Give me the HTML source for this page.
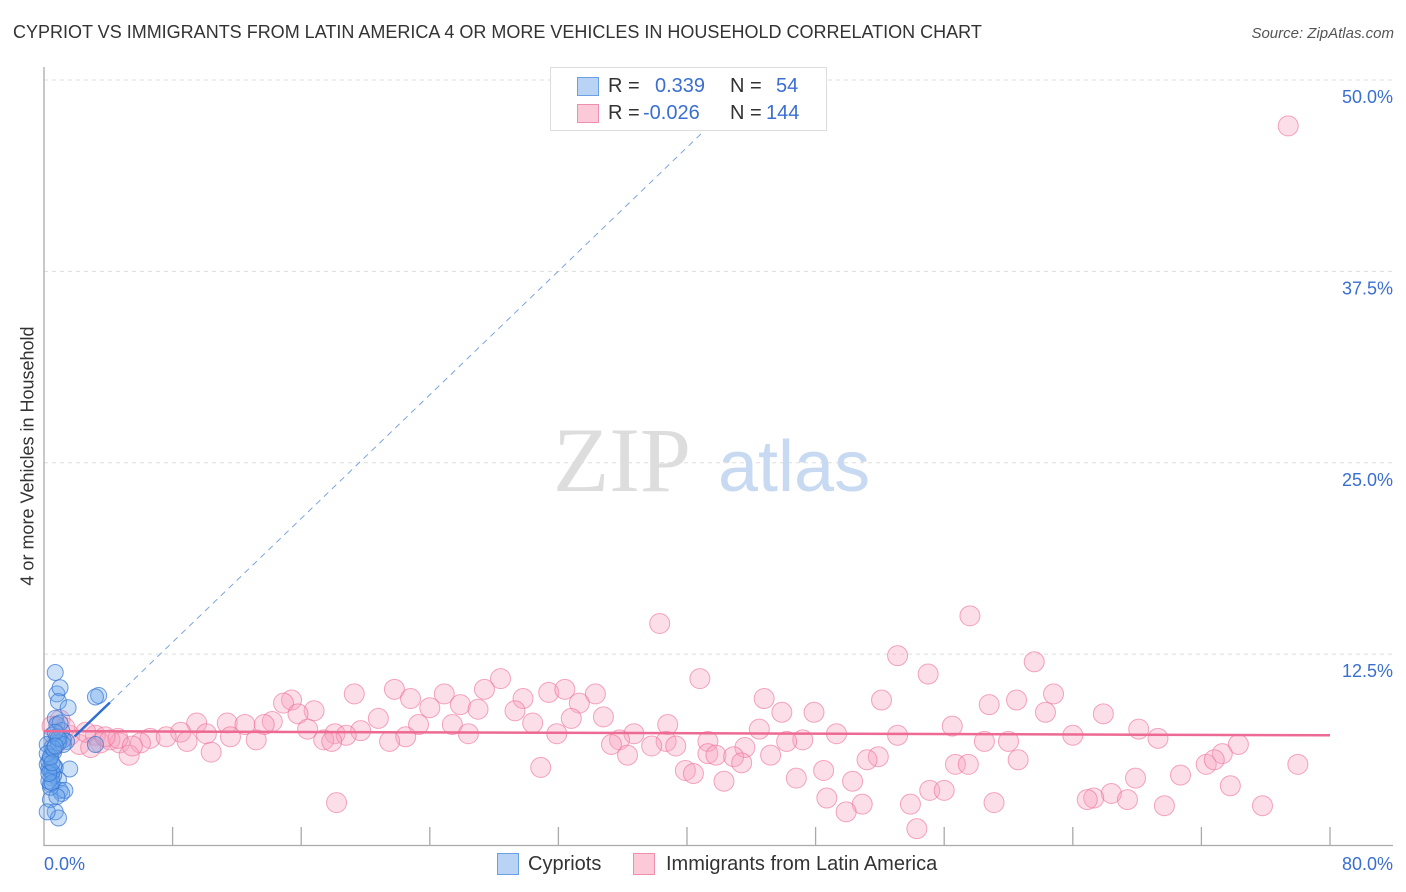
<!DOCTYPE html>
<html><head><meta charset="utf-8">
<style>
body{margin:0;background:#fff;font-family:"Liberation Sans",sans-serif;}
#wrap{position:relative;width:1406px;height:892px;overflow:hidden;}
.t{position:absolute;white-space:nowrap;}
</style></head>
<body>
<div id="wrap">
<div class="t" style="left:13px;top:22px;font-size:18px;color:#333;">CYPRIOT VS IMMIGRANTS FROM LATIN AMERICA 4 OR MORE VEHICLES IN HOUSEHOLD CORRELATION CHART</div>
<div class="t" style="right:12px;top:25px;font-size:15px;color:#555;font-style:italic;">Source: ZipAtlas.com</div>
<div class="t" style="left:28px;top:456px;font-size:18px;color:#333;transform:translate(-50%,-50%) rotate(-90deg);">4 or more Vehicles in Household</div>
<svg id="svg" width="1406" height="892" style="position:absolute;left:0;top:0"></svg>
<div style="position:absolute;left:550px;top:67px;width:275px;height:62px;border:1px solid #ddd;background:#fff;font-size:20px;">
 <div style="position:absolute;left:26px;top:9px;width:20px;height:17px;background:#b9d3f5;border:1px solid #6aa0e6"></div>
 <div class="t" style="left:57px;top:7px;color:#333">R = </div><div class="t" style="left:104px;top:7px;color:#3a6fd0">0.339</div>
 <div class="t" style="left:179px;top:7px;color:#333">N = </div><div class="t" style="left:225px;top:7px;color:#3a6fd0">54</div>
 <div style="position:absolute;left:26px;top:36px;width:20px;height:17px;background:#fbc9d8;border:1px solid #ef8fae"></div>
 <div class="t" style="left:57px;top:34px;color:#333">R = </div><div class="t" style="left:92px;top:34px;color:#3a6fd0">-0.026</div>
 <div class="t" style="left:179px;top:34px;color:#333">N = </div><div class="t" style="left:215px;top:34px;color:#3a6fd0">144</div>
</div>
<div style="position:absolute;left:497px;top:853px;">
 <div style="position:absolute;left:0;top:0;width:20px;height:20px;background:#b9d3f5;border:1px solid #6aa0e6"></div>
 <div class="t" style="left:31px;top:0;font-size:20px;color:#333">Cypriots</div></div>
<div style="position:absolute;left:633px;top:853px;">
 <div style="position:absolute;left:0;top:0;width:20px;height:20px;background:#fbc9d8;border:1px solid #ef8fae"></div>
 <div class="t" style="left:33px;top:0;font-size:20px;color:#333">Immigrants from Latin America</div></div>
</div>
<script>
const yTicks=[12.5,25,37.5,50];
const yTickLabels=["12.5%","25.0%","37.5%","50.0%"];
const xTickVals=[8,16,24,32,40,48,56,64,72,80];
const blueX=[0.7,0.8,1.0,3.4,3.2,0.9,1.5,0.7,0.8,0.5,1.0,1.4,3.2,0.4,0.2,0.4,0.7,1.6,0.5,0.9,0.4,1.0,1.1,0.4,0.7,0.9,0.2,0.5,0.6,0.2,1.1,0.3,0.6,1.2,0.8,0.3,0.5,1.3,0.4,0.9,0.6,0.3,1.0,0.7,0.2,0.5,0.8,1.2,0.4,0.6,0.3,0.9,0.5,0.7];
const blueY=[11.3,9.9,10.3,9.8,9.7,9.4,9.0,8.3,7.9,7.2,6.9,6.8,6.6,5.7,5.3,4.9,5.1,5.0,4.4,4.3,4.0,3.6,3.4,3.0,2.2,1.8,2.2,6.4,6.1,6.6,7.5,5.0,4.6,6.9,7.1,5.5,4.8,3.6,3.8,6.7,5.2,4.2,8.0,7.4,6.0,4.1,3.2,6.6,5.8,6.3,4.7,7.0,5.4,6.5];
const pinkX=[77.4,38.3,57.6,53.1,61.6,55.0,40.8,62.8,28.4,27.4,21.8,19.3,31.4,32.4,34.3,24.9,22.8,29.8,15.4,14.9,44.8,52.1,60.5,58.8,33.3,25.9,24.0,27.0,16.8,15.8,29.3,45.9,47.9,62.3,65.9,34.8,32.8,20.8,14.2,9.5,11.4,12.5,13.7,23.3,25.4,30.4,38.8,56.5,68.1,44.5,16.4,19.7,8.5,10.1,18.1,18.8,26.4,31.9,36.7,49.3,53.1,64.0,6.6,7.6,11.6,13.2,17.4,22.5,35.8,38.7,41.3,47.2,69.3,60.0,58.5,6.0,4.7,8.9,17.9,21.5,35.3,37.8,39.3,43.6,46.2,74.3,10.4,5.3,36.3,41.3,41.8,42.9,45.2,51.9,73.3,60.6,51.2,72.3,72.8,78.0,43.4,56.7,57.5,30.9,39.9,40.4,48.5,46.8,42.3,50.3,67.9,70.7,55.1,56.0,73.8,66.4,65.3,64.9,67.4,48.7,50.9,53.9,59.1,69.7,75.8,18.2,49.9,54.3,1.0,1.6,2.2,3.2,3.5,4.1,0.7,1.3,2.9,4.6,2.6,5.5,0.5,3.8];
const pinkY=[47.0,14.5,15.0,12.4,12.0,11.2,10.9,9.9,10.9,10.2,10.2,9.9,10.0,10.2,9.9,9.9,9.6,9.6,9.5,9.3,9.6,9.5,9.5,9.2,9.3,9.2,9.0,8.9,8.8,8.6,8.8,8.7,8.7,8.7,8.6,8.4,8.3,8.3,8.1,8.0,8.0,7.9,7.9,7.9,7.9,8.0,7.9,7.8,7.6,7.6,7.6,7.5,7.4,7.3,7.3,7.2,7.3,7.3,7.3,7.3,7.2,7.2,7.0,7.1,7.1,6.9,6.9,7.1,6.9,6.8,6.8,6.9,7.0,6.8,6.8,6.7,6.7,6.8,6.8,6.8,6.6,6.5,6.5,6.4,6.8,6.6,6.1,5.9,5.9,6.0,5.9,5.8,5.9,5.8,6.0,5.6,5.6,5.3,5.6,5.3,5.4,5.3,5.3,5.1,4.9,4.7,4.9,4.4,4.2,4.2,4.4,4.6,3.6,3.6,3.9,3.4,3.1,3.0,3.0,3.1,2.7,2.7,2.8,2.6,2.6,2.8,2.2,1.1,8.2,7.2,6.6,7.2,6.7,6.9,6.6,7.7,6.4,7.0,7.4,6.5,7.8,7.1];
const blueFit=[5.2,1.01];
const pinkFit=[7.47,-0.0034];
const X0=44,X1=1330,Y0=845.5,YTOP=80;
const sx=v=>X0+v*(X1-X0)/80;
const sy=v=>Y0-v*(Y0-YTOP)/50;
const svg=document.getElementById('svg');
const NS='http://www.w3.org/2000/svg';
function mk(tag,attrs){const e=document.createElementNS(NS,tag);for(const k in attrs)e.setAttribute(k,attrs[k]);svg.appendChild(e);return e;}
yTicks.forEach((v,i)=>{
 const g=mk('line',{x1:X0,x2:1393,y1:sy(v),y2:sy(v),stroke:'#ddd','stroke-dasharray':'4,4'});
 
 
 const t=mk('text',{x:1393,y:sy(v)+23,'text-anchor':'end','font-size':18,fill:'#3a6fd0','font-family':'Liberation Sans'});
 t.textContent=yTickLabels[i];
 
 
});
const ax=mk('path',{d:`M${X0},67 V${Y0} H1393`,stroke:'#aaa',fill:'none','stroke-width':1.3});


xTickVals.forEach(v=>{
 const l=mk('line',{x1:sx(v),x2:sx(v),y1:827,y2:Y0,stroke:'#aaa','stroke-width':1.3});
 
 
});
[["0.0%",X0,'start'],["80.0%",1393,'end']].forEach(a=>{
 const t=mk('text',{x:a[1],y:870,'text-anchor':a[2],'font-size':18,fill:'#3a6fd0','font-family':'Liberation Sans'});
 t.textContent=a[0];
 
 
});
const wm1=mk('text',{x:553,y:491,'font-size':92,fill:'#ddd','font-family':'Liberation Serif'});
wm1.textContent='ZIP';


const wm2=mk('text',{x:718,y:491,'font-size':72,fill:'#c8d9f2','font-family':'Liberation Sans'});
wm2.textContent='atlas';


pinkX.forEach((x,i)=>{
 const c=mk('circle',{cx:sx(x),cy:sy(pinkY[i]),r:10,fill:'rgba(246,160,188,0.35)',stroke:'rgba(236,110,150,0.6)','stroke-width':1});
 
 
});
blueX.forEach((x,i)=>{
 const c=mk('circle',{cx:sx(x),cy:sy(blueY[i]),r:8,fill:'rgba(110,165,235,0.35)',stroke:'rgba(50,115,210,0.7)','stroke-width':1});
 
 
});
const pl=mk('line',{x1:sx(0),y1:sy(pinkFit[0]),x2:sx(80),y2:sy(pinkFit[0]+pinkFit[1]*80),stroke:'#ec6a93','stroke-width':2.5});


const xe=(50-blueFit[0])/blueFit[1];
const bd=mk('line',{x1:sx(4.1),y1:sy(blueFit[0]+blueFit[1]*4.1),x2:sx(xe),y2:sy(50),stroke:'#7aa3de','stroke-width':1,'stroke-dasharray':'6,5'});


const bl=mk('line',{x1:sx(1.9),y1:sy(blueFit[0]+blueFit[1]*1.9),x2:sx(4.1),y2:sy(blueFit[0]+blueFit[1]*4.1),stroke:'#2f6fd0','stroke-width':2.5});


</script>
</body></html>
